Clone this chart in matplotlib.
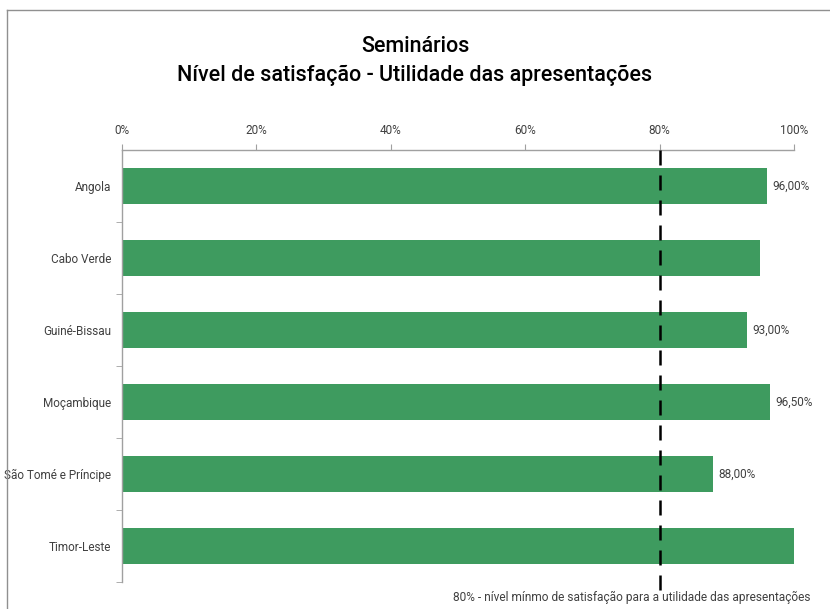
import matplotlib
matplotlib.use("Agg")
import matplotlib.pyplot as plt
from matplotlib.lines import Line2D

plt.rcParams['font.family'] = ['Roboto', 'DejaVu Sans']

categories = ["Angola", "Cabo Verde", "Guiné-Bissau", "Moçambique", "São Tomé e Príncipe", "Timor-Leste"]
values = [96.0, 95.0, 93.0, 96.5, 88.0, 100.0]
value_labels = ["96,00%", "", "93,00%", "96,50%", "88,00%", ""]
x_ticks = [0, 20, 40, 60, 80, 100]
x_tick_labels = ["0%", "20%", "40%", "60%", "80%", "100%"]
threshold = 80
threshold_label = "80% - nível mínmo de satisfação para a utilidade das apresentações"
title = "Seminários\nNível de satisfação - Utilidade das apresentações"

W, H = 830, 609
fig = plt.figure(figsize=(W / 100, H / 100), dpi=100)
ax = fig.add_axes([122 / W, 1 - 582 / H, (794 - 122) / W, (582 - 150) / H])

txt = '#404040'
ypos = list(range(len(categories)))
ax.barh(ypos, values, height=0.49, color='#3E9B5F', zorder=2)
ax.set_ylim(len(categories) - 0.5, -0.5)
ax.set_xlim(0, 100)

ax.xaxis.tick_top()
ax.set_xticks(x_ticks)
ax.set_xticklabels(x_tick_labels, fontsize=8.5, color=txt)
ax.tick_params(axis='x', length=4, color='#a0a0a0', pad=5)
ax.set_yticks(ypos)
ax.set_yticklabels(categories, fontsize=8.5, color=txt)
ax.tick_params(axis='y', length=0, pad=8)
ax.set_yticks([i + 0.5 for i in range(len(categories))], minor=True)
ax.tick_params(axis='y', which='minor', length=4, color='#a0a0a0')

for s in ['right', 'bottom']:
    ax.spines[s].set_visible(False)
for s in ['top', 'left']:
    ax.spines[s].set_color('#a0a0a0')
    ax.spines[s].set_linewidth(1)

for y, v, lab in zip(ypos, values, value_labels):
    if lab:
        ax.text(v + 0.8, y, lab, va='center', ha='left', fontsize=8.5, color=txt)

ax.plot([threshold, threshold], [-0.5, 5.62], color='black', lw=1.8,
        dashes=(6, 4), clip_on=False, zorder=3)

fig.text(453 / W, 1 - 597 / H, threshold_label, ha='left', va='center',
         fontsize=8.6, color=txt)

fig.text(0.5, 1 - 61 / H, title, ha='center', va='center', fontsize=15.5,
         fontweight='medium', color='black', linespacing=1.5)

fig.add_artist(Line2D([7 / W, 1], [1 - 10 / H, 1 - 10 / H], color='#909090', lw=1))
fig.add_artist(Line2D([7 / W, 7 / W], [0, 1 - 10 / H], color='#909090', lw=1))

fig.savefig("out.png", dpi=100)
